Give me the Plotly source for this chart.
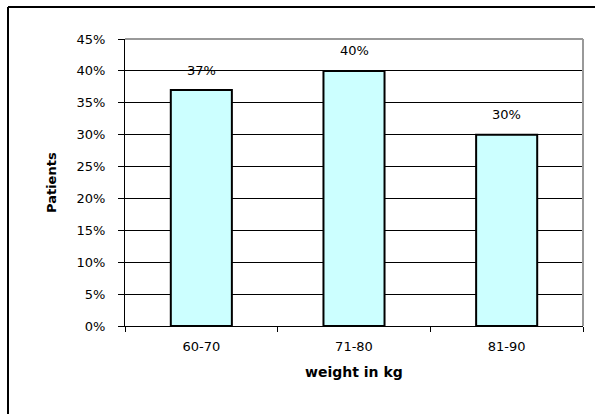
import plotly.graph_objects as go

# Share of patients per weight class
weight_classes = ["60-70", "71-80", "81-90"]
patient_pct = [37, 40, 30]
y_tick_values = [0, 5, 10, 15, 20, 25, 30, 35, 40, 45]
y_tick_labels = [f"{v}%" for v in y_tick_values]

W, H = 595, 414
ML, MR, MT, MB = 125, 12, 39, 88
pw, ph = W - ML - MR, H - MT - MB

def px_x(x):
    return (x - ML) / pw

def px_y(y):
    return (H - MB - y) / ph

font_main = "DejaVu Sans, Arial, sans-serif"

fig = go.Figure(
    go.Bar(
        x=weight_classes,
        y=patient_pct,
        marker=dict(color="#CCFFFF", line=dict(color="black", width=2)),
        hoverinfo="skip",
    )
)

# value labels above each bar
for cat, val in zip(weight_classes, patient_pct):
    fig.add_annotation(
        x=cat, y=val, text=f"{val}%", showarrow=False,
        yshift=20, font=dict(family=font_main, size=13, color="black"),
    )

# axis titles
fig.add_annotation(
    xref="paper", yref="paper", x=px_x(42), y=0.5, text="<b>Patients</b>",
    textangle=-90, showarrow=False,
    font=dict(family=font_main, size=13, color="black"),
)
fig.add_annotation(
    xref="paper", yref="paper", x=0.5, y=px_y(382), text="<b>weight in kg</b>",
    showarrow=False, font=dict(family=font_main, size=14, color="black"),
)

# plot-area border (top and right in grey)
fig.add_shape(type="line", xref="paper", yref="paper", x0=0, x1=1, y0=1, y1=1,
              line=dict(color="#999999", width=2))
fig.add_shape(type="line", xref="paper", yref="paper", x0=1, x1=1, y0=0, y1=1,
              line=dict(color="#999999", width=2))

# outer chart frame
fig.add_shape(type="line", xref="paper", yref="paper",
              x0=px_x(8), x1=px_x(600), y0=px_y(7), y1=px_y(7),
              line=dict(color="black", width=2))
fig.add_shape(type="line", xref="paper", yref="paper",
              x0=px_x(8), x1=px_x(8), y0=px_y(7), y1=px_y(420),
              line=dict(color="black", width=2))

fig.update_layout(
    width=W, height=H,
    margin=dict(l=ML, r=MR, t=MT, b=MB, autoexpand=False),
    paper_bgcolor="white", plot_bgcolor="white",
    bargap=0.6, showlegend=False,
    font=dict(family=font_main, size=13, color="black"),
)
fig.update_xaxes(
    showline=True, linecolor="black", linewidth=1,
    ticks="outside", tickson="boundaries", ticklen=5, tickcolor="black",
    showgrid=False, ticklabelstandoff=8,
    tickfont=dict(family=font_main, size=13, color="black"),
)
fig.update_yaxes(
    range=[0, 45], tickvals=y_tick_values, ticktext=y_tick_labels,
    showline=True, linecolor="black", linewidth=1,
    ticks="outside", ticklen=6, tickcolor="black",
    showgrid=True, gridcolor="black", gridwidth=1, zeroline=False,
    ticklabelstandoff=10,
    tickfont=dict(family=font_main, size=13, color="black"),
)

fig.write_html("out.html")
